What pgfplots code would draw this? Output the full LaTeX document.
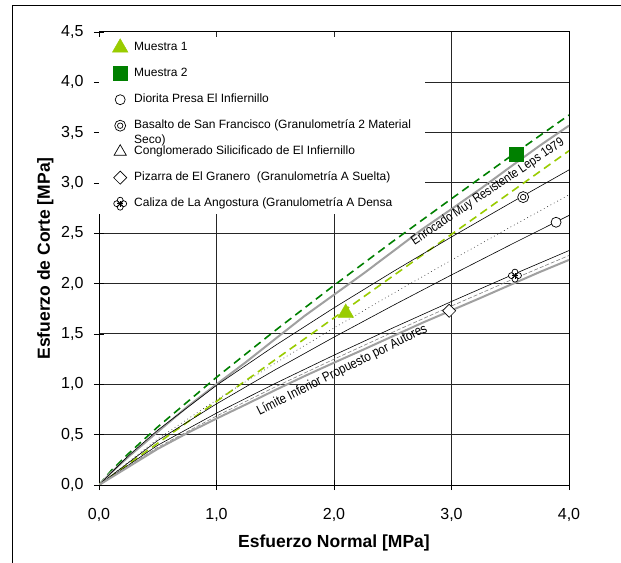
\documentclass[border=0pt]{standalone}
\usepackage{pgfplots}
\pgfplotsset{compat=1.18}
\usepackage{fontspec}
\setmainfont{Liberation Sans}
\newfontfamily\narrowfont[FakeStretch=0.85]{Liberation Sans}
\definecolor{lgreen}{RGB}{153,204,0}
\definecolor{dgreen}{RGB}{0,128,0}
\definecolor{lgray}{RGB}{160,160,160}

\pgfdeclareplotmark{dcircle}{%
  \pgfpathcircle{\pgfpointorigin}{\pgfplotmarksize}%
  \pgfusepathqfillstroke
  \pgfpathcircle{\pgfpointorigin}{0.5\pgfplotmarksize}%
  \pgfusepathqstroke
}
\pgfdeclareplotmark{clover}{%
  \pgfpathcircle{\pgfqpoint{0pt}{0.55\pgfplotmarksize}}{0.45\pgfplotmarksize}%
  \pgfpathcircle{\pgfqpoint{0pt}{-0.55\pgfplotmarksize}}{0.45\pgfplotmarksize}%
  \pgfpathcircle{\pgfqpoint{0.55\pgfplotmarksize}{0pt}}{0.45\pgfplotmarksize}%
  \pgfpathcircle{\pgfqpoint{-0.55\pgfplotmarksize}{0pt}}{0.45\pgfplotmarksize}%
  \pgfusepathqfillstroke
  \pgfpathmoveto{\pgfqpoint{-0.45\pgfplotmarksize}{0pt}}%
  \pgfpathlineto{\pgfqpoint{0.45\pgfplotmarksize}{0pt}}%
  \pgfpathmoveto{\pgfqpoint{0pt}{-0.45\pgfplotmarksize}}%
  \pgfpathlineto{\pgfqpoint{0pt}{0.45\pgfplotmarksize}}%
  \pgfusepathqstroke
}
\pgfplotsset{mylegend/.style={legend image code/.code={%
  \pgfpathrectangle{\pgfpoint{0bp}{-6bp}}{\pgfpoint{14bp}{12bp}}%
  \pgfusepath{discard}%
  \begin{pgfinterruptboundingbox}
  \draw[##1] plot coordinates {(7bp,0bp)};
  \end{pgfinterruptboundingbox}}}}

\begin{document}
\begin{tikzpicture}
\useasboundingbox (0,0) rectangle (621bp,563bp);
\fill[white] (0,0) rectangle (621bp,563bp);
\draw[line width=0.8bp] (12bp,0) -- (12bp,557.5bp) -- (621bp,557.5bp);
\begin{axis}[
  at={(99bp,78bp)}, anchor=south west,
  scale only axis, width=470bp, height=453bp,
  xmin=0, xmax=4, ymin=0, ymax=4.5,
  xtick={0,1,2,3,4},
  ytick={0,0.5,1,1.5,2,2.5,3,3.5,4,4.5},
  grid=major,
  major grid style={black!85, line width=1bp},
  axis line style={black, line width=1bp},
  tick style={black, line width=0.9bp},
  tick align=center, major tick length=10bp,
  tick pos=left,
  tick label style={font=\fontsize{16bp}{19bp}\selectfont},
  xticklabel style={yshift=-15bp},
  yticklabel style={xshift=-7bp},
  /pgf/number format/fixed,
  /pgf/number format/fixed zerofill,
  /pgf/number format/precision=1,
  /pgf/number format/use comma,
  /pgf/number format/assume math mode=true,
  xlabel={Esfuerzo Normal [MPa]},
  ylabel={Esfuerzo de Corte [MPa]},
  every axis x label/.style={at={(axis description cs:0.5,-0.128)}, anchor=center, font=\fontsize{17.5bp}{20bp}\selectfont\bfseries},
  every axis y label/.style={at={(axis description cs:-0.114,0.5)}, rotate=90, anchor=center, font=\fontsize{17.5bp}{20bp}\selectfont\bfseries},
  legend style={at={(0,1)}, anchor=north west, yshift=-5bp, draw=none, fill=white,
    font=\fontsize{12bp}{14.4bp}\selectfont,
    inner xsep=14bp, inner ysep=4.5bp, row sep=14bp, column sep=7bp,
    cells={anchor=west},
    nodes={inner sep=0pt, text height=9bp, text depth=3bp}},
]
% fitted envelopes
\addplot[forget plot, dgreen, line width=1.6bp, dash pattern=on 8bp off 5bp] coordinates {(0,0)(0.1,0.138)(0.25,0.311)(0.5,0.577)(1,1.07)(1.5,1.535)(2,1.983)(2.5,2.419)(3,2.844)(3.5,3.263)(4,3.675)};
\addplot[forget plot, lgray, line width=2bp] coordinates {(0,0)(0.1,0.121)(0.25,0.28)(0.5,0.529)(0.75,0.775)(1,1.0)(1.25,1.22)(1.5,1.451)(1.75,1.68)(2,1.89)(2.25,2.10)(2.5,2.319)(2.75,2.54)(3,2.741)(3.25,2.945)(3.5,3.159)(3.75,3.37)(4,3.57)};
\addplot[forget plot, lgreen, line width=1.6bp, dash pattern=on 8bp off 5bp] coordinates {(0,0)(4,3.32)};
\addplot[forget plot, black, line width=0.6bp] coordinates {(0,0)(0.25,0.29)(0.5,0.545)(1,0.99)(1.5,1.386)(2,1.76)(2.5,2.118)(3,2.464)(3.5,2.80)(4,3.13)};
\addplot[forget plot, black!80, line width=0.6bp, dash pattern=on 0.8bp off 3bp] coordinates {(0,0)(0.5,0.458)(1,0.845)(1.5,1.21)(2,1.56)(2.5,1.901)(3,2.234)(3.5,2.561)(4,2.882)};
\addplot[forget plot, black, line width=0.6bp] coordinates {(0,0)(0.5,0.442)(1,0.806)(1.5,1.145)(2,1.469)(2.5,1.782)(3,2.087)(3.5,2.385)(4,2.678)};
\addplot[forget plot, black, line width=0.6bp] coordinates {(0,0)(0.5,0.395)(1,0.714)(1.5,1.009)(2,1.29)(2.5,1.56)(3,1.823)(3.5,2.079)(4,2.329)};
\addplot[forget plot, gray, line width=0.6bp, dash pattern=on 4bp off 2bp] coordinates {(0,0)(0.5,0.375)(1,0.685)(1.5,0.975)(2,1.25)(2.5,1.518)(3,1.778)(3.5,2.033)(4,2.28)};
\addplot[forget plot, lgray, line width=2bp] coordinates {(0,0)(0.5,0.359)(0.75,0.515)(1,0.66)(1.25,0.80)(1.5,0.943)(1.75,1.082)(2,1.215)(2.25,1.345)(2.5,1.478)(2.75,1.61)(3,1.735)(3.25,1.86)(3.5,1.988)(3.75,2.115)(4,2.236)};
% text along lines
\node[rotate=34, font=\narrowfont\fontsize{13bp}{15bp}\selectfont] at (axis cs:3.31,2.91) {Enrocado Muy Resistente Leps 1979};
\node[rotate=26.5, font=\narrowfont\fontsize{13.5bp}{15bp}\selectfont] at (axis cs:2.07,1.14) {Límite Inferior Propuesto por Autores};
% points
\addplot[only marks, mark=triangle*, mark size=9bp, color=lgreen, mylegend] coordinates {(2.1,1.71)};
\addlegendentry{Muestra 1}
\addplot[only marks, mark=square*, mark size=7bp, color=dgreen, mylegend] coordinates {(3.55,3.29)};
\addlegendentry{Muestra 2}
\addplot[only marks, mark=*, mark size=5bp, mark options={draw=black, fill=white, line width=0.7bp}, mylegend] coordinates {(3.89,2.61)};
\addlegendentry{Diorita Presa El Infiernillo}
\addplot[only marks, mark=dcircle, mark size=5.5bp, mark options={draw=black, fill=white, line width=0.7bp}, mylegend] coordinates {(3.61,2.86)};
\addlegendentry{\smash{\begin{tabular}[t]{@{}l@{}}Basalto de San Francisco (Granulometría 2 Material\\Seco)\end{tabular}}}
\addlegendimage{only marks, mark=triangle*, mark size=7bp, mark options={draw=black, fill=white, line width=0.7bp}, mylegend}
\addlegendentry{Conglomerado Silicificado de El Infiernillo}
\addplot[only marks, mark=square*, mark size=4.6bp, mark options={rotate=45, draw=black, fill=white, line width=0.7bp}, mylegend] coordinates {(2.98,1.73)};
\addlegendentry{Pizarra de El Granero\ \ (Granulometría A Suelta)}
\addplot[only marks, mark=clover, mark size=6.5bp, mark options={draw=black, fill=white, line width=0.7bp}, mylegend] coordinates {(3.54,2.08)};
\addlegendentry{Caliza de La Angostura (Granulometría A Densa}
\end{axis}
\end{tikzpicture}
\end{document}
